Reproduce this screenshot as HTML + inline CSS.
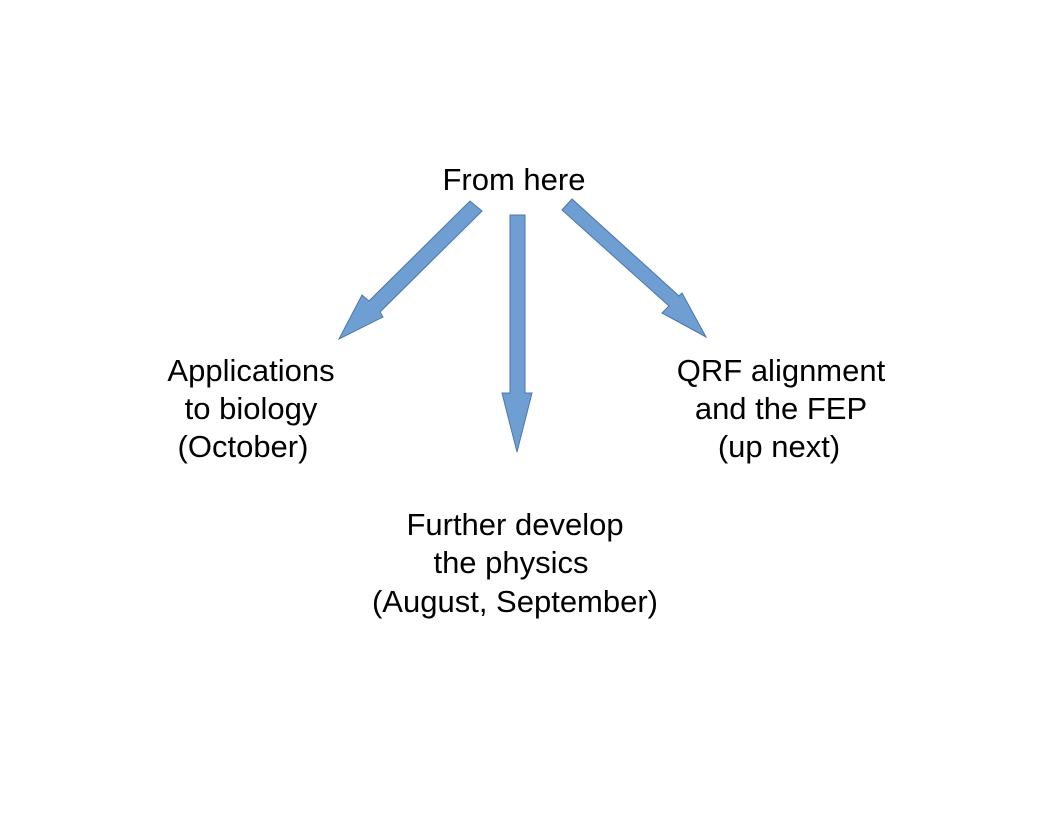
<!DOCTYPE html>
<html><head><style>body{margin:0;background:#fff}svg{display:block}</style></head>
<body>
<svg width="1056" height="816" viewBox="0 0 1056 816" xmlns="http://www.w3.org/2000/svg">
<g fill="#6f9ed2" stroke="#4a76ad" stroke-width="1">
<polygon points="510,215 525,215 525,393 532,393 517,452 502,393 510,393"/>
<polygon points="470,201 482,211 380,312 383,317 339,339 362,295 369,301"/>
<polygon points="562,210 572,199 679,296 682,293 706,337 662,313 669,306"/>
</g>
<g font-family="Liberation Sans, Arial, sans-serif" font-size="31" fill="#000" text-anchor="middle">
<text x="514" y="190">From here</text>
<text x="251" y="381">Applications</text>
<text x="251" y="419">to biology</text>
<text x="243" y="457">(October)</text>
<text x="781" y="381">QRF alignment</text>
<text x="781" y="419">and the FEP</text>
<text x="779" y="457">(up next)</text>
<text x="515" y="535">Further develop</text>
<text x="511" y="573">the physics</text>
<text x="515" y="612">(August, September)</text>
</g>
</svg>
</body></html>
